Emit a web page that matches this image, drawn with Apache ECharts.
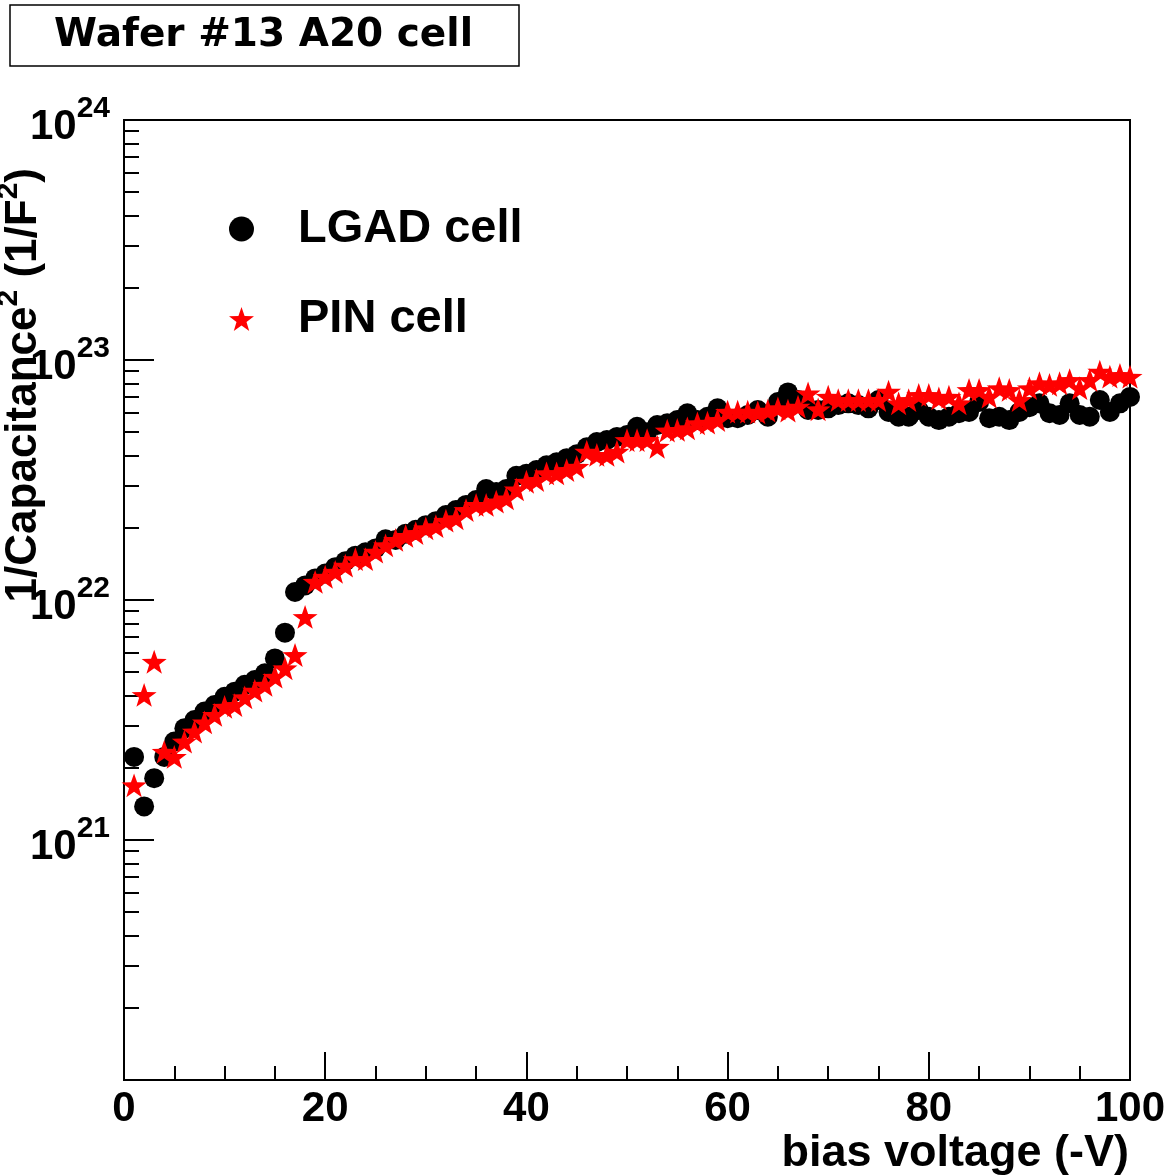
<!DOCTYPE html>
<html>
<head>
<meta charset="utf-8">
<script src="https://cdn.jsdelivr.net/npm/echarts@6/dist/echarts.min.js"></script>
<style>
html,body{margin:0;padding:0;background:#fff;}
#chart{width:1170px;height:1176px;}
</style>
</head>
<body>
<div id="chart"></div>
<script>
// ---- data ----
const voltages = [1,2,3,4,5,6,7,8,9,10,11,12,13,14,15,16,17,18,19,20,
  21,22,23,24,25,26,27,28,29,30,31,32,33,34,35,36,37,38,39,40,
  41,42,43,44,45,46,47,48,49,50,51,52,53,54,55,56,57,58,59,60,
  61,62,63,64,65,66,67,68,69,70,71,72,73,74,75,76,77,78,79,80,
  81,82,83,84,85,86,87,88,89,90,91,92,93,94,95,96,97,98,99,100];

const lgadCell = [2.22e21,1.38e21,1.81e21,2.22e21,2.57e21,2.92e21,3.16e21,3.43e21,3.65e21,3.95e21,
  4.15e21,4.43e21,4.64e21,4.95e21,5.71e21,7.31e21,1.08e22,1.15e22,1.23e22,1.29e22,
  1.37e22,1.45e22,1.53e22,1.58e22,1.64e22,1.79e22,1.78e22,1.89e22,1.96e22,2.05e22,
  2.13e22,2.26e22,2.37e22,2.49e22,2.61e22,2.90e22,2.82e22,2.90e22,3.29e22,3.36e22,
  3.48e22,3.64e22,3.75e22,3.90e22,4.05e22,4.33e22,4.55e22,4.64e22,4.78e22,4.87e22,
  5.27e22,5.00e22,5.36e22,5.45e22,5.62e22,6.00e22,5.62e22,5.80e22,6.29e22,5.72e22,
  5.72e22,5.90e22,6.19e22,5.80e22,6.68e22,7.33e22,6.81e22,6.19e22,6.19e22,6.29e22,
  6.49e22,6.60e22,6.49e22,6.29e22,6.81e22,6.07e22,5.80e22,5.80e22,6.19e22,5.80e22,
  5.62e22,5.80e22,6.00e22,6.07e22,6.68e22,5.72e22,5.80e22,5.62e22,6.07e22,6.36e22,
  6.60e22,6.00e22,5.90e22,6.60e22,5.90e22,5.80e22,6.81e22,6.07e22,6.60e22,7.02e22];

const pinCell = [1.69e21,4.02e21,5.53e21,2.33e21,2.22e21,2.57e21,2.83e21,3.09e21,3.32e21,3.59e21,
  3.65e21,3.93e21,4.19e21,4.43e21,4.79e21,5.19e21,5.90e21,8.50e21,1.19e22,1.25e22,
  1.31e22,1.39e22,1.48e22,1.48e22,1.59e22,1.69e22,1.78e22,1.85e22,1.90e22,1.99e22,
  2.03e22,2.14e22,2.19e22,2.37e22,2.49e22,2.49e22,2.57e22,2.65e22,2.89e22,3.11e22,
  3.16e22,3.37e22,3.37e22,3.48e22,3.59e22,4.15e22,4.02e22,4.02e22,4.15e22,4.64e22,
  4.64e22,4.64e22,4.35e22,5.08e22,5.11e22,5.19e22,5.45e22,5.48e22,5.62e22,6.09e22,
  6.09e22,6.09e22,6.05e22,6.15e22,6.29e22,6.15e22,6.39e22,7.26e22,6.23e22,7.03e22,
  6.81e22,6.81e22,6.81e22,6.81e22,6.81e22,7.38e22,6.60e22,6.81e22,7.15e22,7.15e22,
  6.92e22,7.03e22,6.60e22,7.50e22,7.50e22,7.03e22,7.63e22,7.50e22,6.81e22,7.63e22,
  8.00e22,7.87e22,8.00e22,8.25e22,7.63e22,8.25e22,8.94e22,8.52e22,8.66e22,8.52e22];

const seriesNames = ['LGAD cell', 'PIN cell'];
const xTickLabels = [0, 20, 40, 60, 80, 100];
const yDecades = [1e20, 1e21, 1e22, 1e23, 1e24];
const yMinorMultipliers = [2,3,4,5,6,7,8,9];

// ---- chart ----
const FONT = '"Liberation Sans", Arial, Helvetica, sans-serif';
const TITLE_FONT = '"DejaVu Sans", "Liberation Sans", Arial, sans-serif';
const starPath = 'path://M50 0 L61.76 33.82 L97.55 34.55 L69.02 56.18 L79.39 90.45 L50 70 L20.61 90.45 L30.98 56.18 L2.45 34.55 L38.24 33.82 Z';

const yMinorTicks = [];
for (let d = 0; d < yDecades.length - 1; d++) {
  yMinorMultipliers.forEach(m => yMinorTicks.push(m * yDecades[d]));
}

const chart = echarts.init(document.getElementById('chart'), null, {renderer: 'canvas'});

const option = {
  animation: false,
  backgroundColor: '#fff',
  title: {
    text: 'Wafer #13 A20 cell',
    left: 10,
    top: 5,
    padding: [8, 46, 8, 44],
    borderColor: '#000',
    borderWidth: 1.5,
    textStyle: {fontFamily: TITLE_FONT, fontSize: 39, fontWeight: 'bold', color: '#000', lineHeight: 45}
  },
  legend: {
    orient: 'vertical',
    left: 229,
    top: 204,
    padding: 0,
    itemGap: 40,
    itemWidth: 25,
    itemHeight: 25,
    selectedMode: false,
    data: [
      {name: seriesNames[0], icon: 'circle'},
      {name: seriesNames[1], icon: starPath}
    ],
    textStyle: {fontFamily: FONT, fontSize: 47, fontWeight: 'bold', color: '#000', lineHeight: 50, padding: [0, 0, 0, 39]}
  },
  grid: {
    left: 124, top: 120, right: 40, bottom: 96,
    show: true, borderColor: '#000', borderWidth: 2, backgroundColor: 'transparent'
  },
  xAxis: {
    type: 'value',
    min: 0, max: 100, interval: 20,
    name: 'bias voltage (-V)',
    nameLocation: 'end',
    nameGap: -1,
    nameTextStyle: {fontFamily: FONT, fontSize: 45, fontWeight: 'bold', color: '#000', align: 'right', verticalAlign: 'top', padding: [51, 0, 0, 0]},
    axisLine: {show: true, lineStyle: {color: '#000', width: 2}},
    axisTick: {show: true, inside: true, length: 28, lineStyle: {color: '#000', width: 2}},
    minorTick: {show: true, splitNumber: 4, length: 14, lineStyle: {color: '#000', width: 2}},
    splitLine: {show: false},
    axisLabel: {
      fontFamily: FONT, fontSize: 42, fontWeight: 'bold', color: '#000', margin: 8,
      formatter: v => xTickLabels.indexOf(v) >= 0 ? String(v) : ''
    }
  },
  yAxis: [
    {
      type: 'log', logBase: 10, min: yDecades[0], max: yDecades[yDecades.length - 1],
      axisLine: {show: true, lineStyle: {color: '#000', width: 2}},
      axisTick: {show: true, inside: true, length: 30, lineStyle: {color: '#000', width: 2}},
      splitLine: {show: false},
      axisLabel: {
        margin: 14,
        padding: [14, 0, 0, 0],
        formatter: function (v) {
          const e = Math.round(Math.log10(v));
          if (e <= 20) return '';
          return '{b|10}{s|' + e + '}';
        },
        rich: {
          b: {fontFamily: FONT, fontSize: 42, fontWeight: 'bold', color: '#000', lineHeight: 66, verticalAlign: 'middle'},
          s: {fontFamily: FONT, fontSize: 30, fontWeight: 'bold', color: '#000', lineHeight: 30, verticalAlign: 'top'}
        }
      }
    },
    {
      type: 'log', logBase: 10, min: yDecades[0], max: yDecades[yDecades.length - 1],
      position: 'left',
      axisLine: {show: false},
      axisLabel: {show: false},
      splitLine: {show: false},
      axisTick: {show: true, inside: true, length: 15, customValues: yMinorTicks, lineStyle: {color: '#000', width: 2}}
    }
  ],
  graphic: [
    {
      type: 'text',
      x: 24, y: 168,
      rotation: Math.PI / 2,
      style: {
        text: '{n|1/Capacitance}{s|2}{n| (1/F}{s|2}{n|)}',
        align: 'right',
        verticalAlign: 'middle',
        rich: {
          n: {fontFamily: FONT, fontSize: 44, fontWeight: 'bold', fill: '#000', lineHeight: 60, verticalAlign: 'middle'},
          s: {fontFamily: FONT, fontSize: 30, fontWeight: 'bold', fill: '#000', lineHeight: 30, verticalAlign: 'top'}
        }
      }
    }
  ],
  series: [
    {
      name: seriesNames[0],
      type: 'scatter',
      yAxisIndex: 0,
      symbol: 'circle',
      symbolSize: 20,
      itemStyle: {color: '#000', opacity: 1},
      data: voltages.map((v, i) => [v, lgadCell[i]])
    },
    {
      name: seriesNames[1],
      type: 'scatter',
      yAxisIndex: 0,
      symbol: starPath,
      symbolSize: 25,
      symbolKeepAspect: true,
      itemStyle: {color: '#ff0000', opacity: 1},
      data: voltages.map((v, i) => [v, pinCell[i]])
    }
  ]
};
chart.setOption(option);
</script>
</body>
</html>
